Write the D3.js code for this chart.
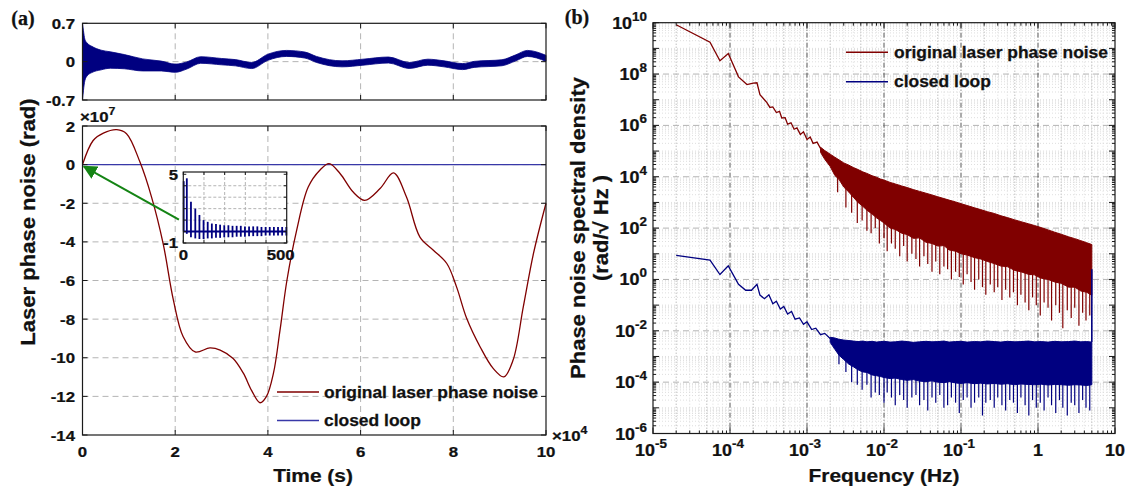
<!DOCTYPE html>
<html><head><meta charset="utf-8">
<script src="https://cdn.jsdelivr.net/npm/d3@7"></script>
<style>
body{margin:0;background:#fff}
svg{display:block}
text{font-family:"Liberation Sans",Arial,sans-serif;font-weight:bold;fill:#111;stroke:#111;stroke-width:0.25px}
</style></head>
<body><svg id="c" width="1127" height="491"></svg>
<script>
// ===================== DATA =====================
// (a) top panel: closed-loop phase noise (rad), band centre and half-width vs time (x1e4 s)
const topT      = [0, 0.02, 0.05, 0.1, 0.2, 0.4, 0.6, 0.9, 1.3, 1.7, 2.0, 2.25, 2.55, 3.0, 3.3, 3.65, 4.0, 4.4, 4.8, 5.05, 5.6, 6.05, 6.6, 7.05, 7.45, 7.8, 8.2, 8.45, 9.05, 9.35, 9.6, 10];
const topCenter = [0, 0.02, 0.03, 0.04, 0.04, 0.03, 0.03, 0.0, -0.06, -0.08, -0.12, -0.07, 0.03, 0.0, -0.02, -0.07, 0.08, 0.15, 0.12, 0.04, -0.04, -0.01, 0.03, -0.07, -0.01, -0.04, -0.09, -0.05, -0.02, 0.07, 0.15, 0.06];
const topHalf   = [0.7, 0.55, 0.38, 0.3, 0.24, 0.18, 0.15, 0.13, 0.11, 0.09, 0.075, 0.065, 0.06, 0.058, 0.057, 0.056, 0.056, 0.055, 0.055, 0.055, 0.055, 0.055, 0.055, 0.055, 0.055, 0.055, 0.055, 0.055, 0.055, 0.055, 0.055, 0.055];
const topYTicks = [-0.7, 0, 0.7];

// (a) main panel: original laser phase noise (x1e7 rad) vs time (x1e4 s)
const origT = [0, 0.23, 0.45, 0.74, 0.95, 1.24, 1.49, 1.74, 1.96, 2.17, 2.43, 2.75, 2.97, 3.25, 3.47, 3.65, 3.83, 3.97, 4.12, 4.26, 4.41, 4.62, 4.87, 5.12, 5.32, 5.56, 5.84, 6.09, 6.42, 6.71, 6.99, 7.28, 7.57, 7.86, 8.07, 8.29, 8.58, 8.86, 9.09, 9.29, 9.51, 9.73, 10];
const origV = [0, 1.25, 1.63, 1.81, 1.6, 0.13, -1.68, -4.09, -7.0, -8.9, -9.7, -9.49, -9.6, -10.04, -10.8, -11.7, -12.33, -12.0, -10.8, -8.6, -6.0, -3.4, -1.16, -0.29, 0.05, -0.47, -1.42, -1.85, -1.24, -0.43, -1.68, -3.75, -4.43, -5.12, -6.33, -7.97, -9.44, -10.55, -10.99, -10.12, -7.37, -4.6, -2.0];
const mainYTicks = [-14, -12, -10, -8, -6, -4, -2, 0, 2];
const timeTicks = [0, 2, 4, 6, 8, 10];

// inset: first 500 samples of closed loop
const insetX   = [2, 17, 37, 58, 78, 98, 118, 138, 158, 178, 198, 218, 238, 258, 278, 298, 318, 338, 358, 378, 398, 418, 438, 458, 478, 498];
const insetPos = [4.4, 4.65, 2.6, 2.0, 1.45, 1.0, 0.85, 0.7, 0.65, 0.6, 0.55, 0.55, 0.5, 0.5, 0.5, 0.45, 0.45, 0.45, 0.45, 0.4, 0.4, 0.4, 0.4, 0.4, 0.4, 0.4];
const insetNeg = [0, -0.2, -0.5, -0.6, -0.65, -0.65, -0.6, -0.6, -0.55, -0.55, -0.5, -0.5, -0.5, -0.45, -0.45, -0.45, -0.4, -0.4, -0.4, -0.4, -0.35, -0.35, -0.35, -0.35, -0.35, -0.35];
const arrowFrom = [2.08, -2.85], arrowTo = [0.03, -0.1];

// (b) spectra: log10 of PSD (rad/sqrt Hz)
const redLineF = [2e-5, 5.5e-5, 7.4e-5, 9.5e-5, 1.29e-4, 1.66e-4, 2.0e-4, 2.24e-4, 2.45e-4, 2.8e-4, 3.0e-4, 3.3e-4, 3.6e-4, 4.0e-4, 4.4e-4, 4.7e-4, 5.2e-4, 5.6e-4, 6.2e-4, 6.8e-4, 7.4e-4, 8.2e-4, 9.0e-4, 1.0e-3, 1.1e-3, 1.2e-3, 1.35e-3, 1.5e-3];
const redLineE = [9.92, 9.24, 8.52, 8.8, 7.89, 7.59, 7.65, 7.66, 7.2, 7.0, 6.9, 6.7, 6.72, 6.5, 6.55, 6.29, 6.3, 6.05, 6.1, 5.85, 5.9, 5.65, 5.75, 5.45, 5.55, 5.3, 5.35, 5.1];
const redBandF  = [1.5e-3, 1.7e-3, 2e-3, 2.3e-3, 2.6e-3, 3e-3, 3.5e-3, 4e-3, 4.6e-3, 5.3e-3,
                   6e-3, 7e-3, 8e-3, 9e-3, 1e-2, 1.2e-2, 1.4e-2, 1.7e-2, 2e-2, 2.4e-2,
                   2.9e-2, 3.5e-2, 4.2e-2, 5e-2, 6e-2, 7e-2, 8.5e-2, 0.1, 0.12, 0.15,
                   0.18, 0.22, 0.27, 0.33, 0.4, 0.5, 0.6, 0.75, 0.9, 1.1,
                   1.35, 1.65, 2, 2.5, 3, 3.6, 4.3, 5];
const redBandHi = [5.15, 5.02, 4.88, 4.76, 4.66, 4.54, 4.45, 4.36, 4.28, 4.19,
                   4.13, 4.04, 3.98, 3.91, 3.87, 3.78, 3.72, 3.64, 3.58, 3.5,
                   3.43, 3.36, 3.29, 3.22, 3.15, 3.09, 3.02, 2.95, 2.88, 2.79,
                   2.72, 2.64, 2.57, 2.48, 2.41, 2.32, 2.25, 2.17, 2.1, 2.02,
                   1.93, 1.84, 1.76, 1.66, 1.59, 1.51, 1.43, 1.36];
const redBandLo = [4.95, 4.68, 4.4, 4.05, 3.9, 3.6, 3.4, 3.2, 3.0, 2.85,
                   2.7, 2.55, 2.4, 2.3, 2.2, 2.0, 1.95, 1.8, 1.75, 1.6,
                   1.62, 1.45, 1.4, 1.3, 1.32, 1.15, 1.1, 1.0, 0.95, 0.85,
                   0.8, 0.7, 0.62, 0.52, 0.5, 0.35, 0.3, 0.2, 0.18, 0.05,
                   0.0, -0.1, -0.15, -0.3, -0.3, -0.45, -0.5, -0.62];
const redSpikeF = [2.5e-3, 3.2e-3, 3.8e-3, 4.5e-3, 5.2e-3, 6e-3, 6.8e-3, 7.7e-3, 8.7e-3, 1e-2,
                   1.1e-2, 1.25e-2, 1.4e-2, 1.6e-2, 1.8e-2, 2e-2, 2.3e-2, 2.6e-2, 2.9e-2, 3.3e-2,
                   3.7e-2, 4.2e-2, 4.7e-2, 5.3e-2, 6e-2, 6.7e-2, 7.5e-2, 8.5e-2, 9.5e-2, 0.107,
                   0.12, 0.135, 0.15, 0.17, 0.19, 0.21, 0.24, 0.27, 0.3, 0.34,
                   0.38, 0.43, 0.48, 0.54, 0.6, 0.68, 0.76, 0.85, 0.95, 1.07,
                   1.2, 1.35, 1.5, 1.7, 1.9, 2.1, 2.4, 2.7, 3.0, 3.4, 3.8, 4.2, 4.7];
const redSpikeE = [3.4, 2.8, 2.6, 2.2, 2.3, 1.9, 1.8, 2.0, 1.4, 1.6,
                   1.1, 1.4, 1.2, 0.9, 1.3, 0.7, 1.0, 0.8, 0.5, 0.9,
                   0.6, 0.3, 0.7, 0.2, 0.5, 0.4, 0.0, 0.3, 0.1, -0.2,
                   0.2, -0.1, -0.4, 0.0, -0.3, -0.6, -0.2, -0.5, -0.3, -0.8,
                   -0.4, -0.7, -0.5, -1.0, -0.6, -0.9, -1.2, -0.7, -1.0, -1.4,
                   -0.9, -1.1, -1.6, -1.0, -1.3, -1.9, -1.2, -1.5, -1.1, -1.8, -1.3, -1.6, -1.4];

const blueLineF = [2e-5, 5.5e-5, 7.4e-5, 9.5e-5, 1.29e-4, 1.6e-4, 1.9e-4, 2.24e-4, 2.45e-4, 2.8e-4, 3.2e-4, 3.6e-4, 4.0e-4, 4.5e-4, 5.0e-4, 5.6e-4, 6.3e-4, 7.0e-4, 8.0e-4, 9.0e-4, 1.0e-3, 1.15e-3, 1.3e-3, 1.5e-3, 1.7e-3, 2.0e-3];
const blueLineE = [0.94, 0.75, 0.19, 0.53, -0.19, -0.42, -0.42, -0.19, -0.61, -0.75, -0.6, -0.95, -0.85, -1.15, -1.05, -1.35, -1.25, -1.55, -1.5, -1.75, -1.65, -1.95, -1.9, -2.15, -2.1, -2.3];
const blueBandF  = [2e-3, 2.3e-3, 2.6e-3, 3e-3, 3.5e-3, 4e-3, 4.6e-3, 5.3e-3, 6e-3, 7e-3,
                    8e-3, 9e-3, 1e-2, 1.2e-2, 1.4e-2, 1.7e-2, 2e-2, 2.4e-2, 2.9e-2, 3.5e-2,
                    4.2e-2, 5e-2, 6e-2, 7e-2, 8.5e-2, 0.1, 0.12, 0.15, 0.18, 0.22,
                    0.27, 0.33, 0.4, 0.5, 0.6, 0.75, 0.9, 1.1, 1.35, 1.65,
                    2, 2.5, 3, 3.6, 4.3, 5];
const blueBandHi = [-2.25, -2.28, -2.33, -2.36, -2.38, -2.4, -2.42, -2.4, -2.43, -2.41,
                    -2.44, -2.42, -2.41, -2.44, -2.43, -2.4, -2.42, -2.45, -2.43, -2.41,
                    -2.43, -2.42, -2.4, -2.44, -2.42, -2.41, -2.44, -2.42, -2.43, -2.4,
                    -2.42, -2.44, -2.41, -2.43, -2.42, -2.4, -2.43, -2.42, -2.44, -2.41,
                    -2.43, -2.42, -2.4, -2.43, -2.42, -2.44];
const blueBandLo = [-2.45, -2.72, -2.95, -3.12, -3.3, -3.4, -3.52, -3.6, -3.62, -3.72,
                    -3.75, -3.78, -3.82, -3.86, -3.84, -3.9, -3.93, -3.9, -3.96, -3.98,
                    -3.95, -4.0, -4.02, -3.98, -4.03, -4.05, -4.02, -4.06, -4.04, -4.07,
                    -4.05, -4.08, -4.06, -4.1, -4.07, -4.09, -4.1, -4.08, -4.11, -4.09,
                    -4.1, -4.12, -4.1, -4.11, -4.13, -4.1];
const blueSpikeF = [2.6e-3, 3.2e-3, 3.8e-3, 4.5e-3, 5.2e-3, 6e-3, 6.8e-3, 7.7e-3, 8.7e-3, 1e-2,
                    1.1e-2, 1.25e-2, 1.4e-2, 1.6e-2, 1.8e-2, 2e-2, 2.3e-2, 2.6e-2, 2.9e-2, 3.3e-2,
                    3.7e-2, 4.2e-2, 4.7e-2, 5.3e-2, 6e-2, 6.7e-2, 7.5e-2, 8.5e-2, 9.5e-2, 0.107,
                    0.12, 0.135, 0.15, 0.17, 0.19, 0.21, 0.24, 0.27, 0.3, 0.34,
                    0.38, 0.43, 0.48, 0.54, 0.6, 0.68, 0.76, 0.85, 0.95, 1.07,
                    1.2, 1.35, 1.5, 1.7, 1.9, 2.1, 2.4, 2.7, 3.0, 3.4, 3.8, 4.2, 4.7];
const blueSpikeE = [-3.3, -3.6, -4.0, -4.1, -4.3, -4.1, -4.6, -4.4, -4.5, -4.8,
                    -4.4, -4.6, -4.9, -4.5, -4.7, -5.0, -4.6, -4.5, -4.9, -4.7,
                    -5.1, -4.6, -4.8, -4.5, -5.0, -4.9, -4.6, -4.8, -5.2, -4.7,
                    -4.6, -5.0, -4.8, -4.6, -5.3, -4.8, -4.7, -5.0, -4.6, -4.9,
                    -5.1, -4.7, -4.8, -5.2, -4.6, -4.9, -5.3, -4.7, -5.0, -4.8,
                    -5.1, -4.6, -4.9, -5.2, -4.7, -5.0, -5.3, -4.8, -4.9, -5.2, -4.7, -5.0, -5.1];
const blueEndF = 5, blueEndE = 0.4;

const freqTicks = [1e-5, 1e-4, 1e-3, 1e-2, 1e-1, 1, 10];
const freqTickLabels = [["10","-5"],["10","-4"],["10","-3"],["10","-2"],["10","-1"],["1",""],["10",""]];
const psdTicksE = [-6, -4, -2, 0, 2, 4, 6, 8, 10];

const legendLabels = ["original laser phase noise", "closed loop"];
const RED = "#800000", NAVY = "#000080", BLUE2 = "#3838a8", GRID = "#b4b4b4";

// ===================== DRAW =====================
const svg = d3.select("#c");
const SX = 1.12;
function txt(x, y, s, o = {}) {
  const t = svg.append("text")
    .attr("transform", `translate(${x},${y}) rotate(${o.rot || 0}) scale(${o.sx || SX},1)`)
    .attr("text-anchor", o.anchor || "middle")
    .style("font-size", (o.size || 15) + "px");
  if (o.family) t.style("font-family", o.family);
  t.text(s);
  return t;
}
function frame(x0, y0, x1, y1) {
  svg.append("rect").attr("x", x0).attr("y", y0).attr("width", x1 - x0).attr("height", y1 - y0)
    .attr("fill", "none").attr("stroke", "#1a1a1a").attr("stroke-width", 1.2);
}
function tick(x1, y1, x2, y2, w) {
  svg.append("line").attr("x1", x1).attr("y1", y1).attr("x2", x2).attr("y2", y2)
    .attr("stroke", "#1a1a1a").attr("stroke-width", w || 1);
}
function gline(x1, y1, x2, y2, color, dash, w) {
  svg.append("line").attr("x1", x1).attr("y1", y1).attr("x2", x2).attr("y2", y2)
    .attr("stroke", color).attr("stroke-width", w || 1).attr("stroke-dasharray", dash);
}

// ---------- (a) top ----------
const xT = d3.scaleLinear([0, 10], [82.5, 546]);
const yTop = d3.scaleLinear([-0.7, 0.7], [100, 23.3]);
[2, 4, 6, 8].forEach(v => gline(xT(v), yTop.range()[1], xT(v), yTop.range()[0], GRID, "6,4"));
gline(xT(0), yTop(0), xT(10), yTop(0), GRID, "6,4");
svg.append("path")
  .datum(topT.map((t, i) => [t, topCenter[i], topHalf[i]]))
  .attr("fill", NAVY).attr("stroke", NAVY).attr("stroke-width", 0.8)
  .attr("d", d3.area().curve(d3.curveMonotoneX).x(d => xT(d[0])).y0(d => yTop(d[1] - d[2])).y1(d => yTop(d[1] + d[2])));
frame(82.5, 23.3, 546, 100);
timeTicks.forEach(v => { tick(xT(v), 100, xT(v), 95); tick(xT(v), 23.3, xT(v), 28.3); });
topYTicks.forEach(v => {
  tick(82.5, yTop(v), 87.5, yTop(v)); tick(546, yTop(v), 541, yTop(v));
  txt(75, yTop(v) + 5.5, v === 0 ? "0" : String(v), {anchor: "end"});
});

// ---------- (a) main ----------
const yM = d3.scaleLinear([-14, 2], [435, 126]);
[-12, -10, -8, -6, -4, -2, 0].forEach(v => gline(xT(0), yM(v), xT(10), yM(v), GRID, "6,4"));
[2, 4, 6, 8].forEach(v => gline(xT(v), yM(2), xT(v), yM(-14), GRID, "6,4"));
svg.append("path").datum(topT.map((t, i) => [t, topCenter[i] / 1e7]))
  .attr("fill", "none").attr("stroke", BLUE2).attr("stroke-width", 1.3)
  .attr("d", d3.line().x(d => xT(d[0])).y(d => yM(d[1])));
svg.append("path").datum(origT.map((t, i) => [t, origV[i]]))
  .attr("fill", "none").attr("stroke", RED).attr("stroke-width", 1.3)
  .attr("d", d3.line().curve(d3.curveCatmullRom).x(d => xT(d[0])).y(d => yM(d[1])));
frame(82.5, 126, 546, 435);
timeTicks.forEach(v => {
  tick(xT(v), 435, xT(v), 430); tick(xT(v), 126, xT(v), 131);
  txt(xT(v), 457, String(v));
});
mainYTicks.forEach(v => {
  tick(82.5, yM(v), 87.5, yM(v)); tick(546, yM(v), 541, yM(v));
  txt(75, yM(v) + 5.5, String(v), {anchor: "end"});
});
let t7 = txt(80, 122, "×10", {anchor: "start"});
t7.append("tspan").attr("dy", -7).style("font-size", "11px").text("7");
let t4 = txt(552, 441, "×10", {anchor: "start"});
t4.append("tspan").attr("dy", -7).style("font-size", "11px").text("4");

// arrow
svg.append("defs").append("marker").attr("id", "ah").attr("viewBox", "0 0 10 10")
  .attr("refX", 9).attr("refY", 5).attr("markerWidth", 7).attr("markerHeight", 7).attr("orient", "auto")
  .append("path").attr("d", "M0,0 L10,5 L0,10 z").attr("fill", "#148414");
svg.append("line").attr("x1", xT(arrowFrom[0])).attr("y1", yM(arrowFrom[1]))
  .attr("x2", xT(arrowTo[0])).attr("y2", yM(arrowTo[1]))
  .attr("stroke", "#148414").attr("stroke-width", 2).attr("marker-end", "url(#ah)");

// inset
const xI = d3.scaleLinear([0, 500], [183.3, 286.7]);
const yI = d3.scaleLinear([-1, 5.2], [243, 172]);
svg.append("rect").attr("x", 183.3).attr("y", 172).attr("width", 103.4).attr("height", 71).attr("fill", "#fff");
[100, 200, 300, 400].forEach(v => gline(xI(v), 172, xI(v), 243, GRID, "3,2"));
[0, 1, 2, 3, 4].forEach(v => gline(183.3, yI(v), 286.7, yI(v), GRID, "3,2"));
insetX.forEach((x, i) => {
  svg.append("line").attr("x1", xI(x)).attr("x2", xI(x)).attr("y1", yI(insetNeg[i])).attr("y2", yI(insetPos[i]))
    .attr("stroke", NAVY).attr("stroke-width", 1.8);
});
svg.append("line").attr("x1", xI(0)).attr("x2", xI(500)).attr("y1", yI(0)).attr("y2", yI(0))
  .attr("stroke", NAVY).attr("stroke-width", 2);
frame(183.3, 172, 286.7, 243);
[0, 100, 200, 300, 400, 500].forEach(v => { tick(xI(v), 243, xI(v), 240); tick(xI(v), 172, xI(v), 175); });
[-1, 0, 1, 2, 3, 4, 5].forEach(v => { tick(183.3, yI(v), 186.3, yI(v)); tick(286.7, yI(v), 283.7, yI(v)); });
txt(178, yI(5) + 6, "5", {anchor: "end"});
txt(178, yI(-1) + 5, "-1", {anchor: "end"});
txt(xI(0), 260, "0");
txt(xI(500) - 6, 260, "500");

// legend (a)
[[392, RED], [420.5, BLUE2]].forEach((d, i) => {
  svg.append("line").attr("x1", 277).attr("x2", 319).attr("y1", d[0]).attr("y2", d[0]).attr("stroke", d[1]).attr("stroke-width", 1.5);
  txt(324, d[0] + 5.5, legendLabels[i], {anchor: "start", size: 16, sx: 1.09});
});

txt(35, 222, "Laser phase noise (rad)", {rot: -90, size: 19.5, sx: 1.13});
txt(313, 482, "Time (s)", {size: 19, sx: 1.1});
txt(23, 25, "(a)", {size: 20, family: "'Liberation Serif', 'Times New Roman', serif", sx: 1});

// ---------- (b) ----------
const xF = d3.scaleLog([1e-5, 10], [653, 1115]);
const yP = d3.scaleLog([1e-6, 1e10], [433.5, 22.7]);
const P = e => Math.pow(10, e);
for (let d = -5; d <= 0; d++) for (let k = 2; k <= 9; k++) {
  const x = xF(k * P(d));
  gline(x, 22.7, x, 433.5, (k === 2 || k === 5) ? "#8a8a8a" : "#d6d6d6", "1,2", 0.8);
}
for (let e = -6; e < 10; e++) for (let k = 1; k <= 9; k++) {
  if (k === 1 && (e % 2 === 0)) continue;
  const y = yP(k * P(e));
  gline(653, y, 1115, y, "#d6d6d6", "1,2", 0.8);
}
psdTicksE.slice(1, -1).forEach(e => gline(653, yP(P(e)), 1115, yP(P(e)), GRID, "6,4", 1));
freqTicks.slice(1, -1).forEach(f => gline(xF(f), 22.7, xF(f), 433.5, "#444", "5,2,1,2", 0.9));

function spectrum(lineF, lineE, bandF, bandHi, bandLo, spF, spE, color) {
  const g = svg.append("g");
  const loAt = d3.scaleLog().domain(bandF).range(bandLo);
  spF.forEach((f, i) => {
    g.append("line").attr("x1", xF(f)).attr("x2", xF(f)).attr("y1", yP(P(loAt(f) + 0.1))).attr("y2", yP(P(spE[i])))
      .attr("stroke", color).attr("stroke-width", 1.2);
  });
  g.append("path").datum(bandF.map((f, i) => [f, bandHi[i], bandLo[i]]))
    .attr("fill", color).attr("stroke", color).attr("stroke-width", 1)
    .attr("d", d3.area().x(d => xF(d[0])).y0(d => yP(P(d[2]))).y1(d => yP(P(d[1]))));
  g.append("path").datum(lineF.map((f, i) => [f, lineE[i]]))
    .attr("fill", "none").attr("stroke", color).attr("stroke-width", 1.3)
    .attr("d", d3.line().x(d => xF(d[0])).y(d => yP(P(d[1]))));
  return g;
}
spectrum(redLineF, redLineE, redBandF, redBandHi, redBandLo, redSpikeF, redSpikeE, RED);
spectrum(blueLineF, blueLineE, blueBandF, blueBandHi, blueBandLo, blueSpikeF, blueSpikeE, NAVY);
svg.append("line").attr("x1", xF(blueEndF)).attr("x2", xF(blueEndF))
  .attr("y1", yP(P(blueEndE))).attr("y2", yP(P(blueBandHi[blueBandHi.length - 1]))).attr("stroke", NAVY).attr("stroke-width", 1.6);

frame(653, 22.7, 1115, 433.5);
for (let d = -5; d <= 1; d++) {
  const x = xF(P(d)); tick(x, 433.5, x, 427.5); tick(x, 22.7, x, 28.7);
  if (d < 1) for (let k = 2; k <= 9; k++) { const xm = xF(k * P(d)); tick(xm, 433.5, xm, 430.5); tick(xm, 22.7, xm, 25.7); }
}
for (let e = -6; e <= 10; e++) {
  const y = yP(P(e)); tick(653, y, 659, y); tick(1115, y, 1109, y);
  if (e < 10) for (let k = 2; k <= 9; k++) { const ym = yP(k * P(e)); tick(653, ym, 656, ym); tick(1115, ym, 1112, ym); }
}
freqTicks.forEach((f, i) => {
  const lab = freqTickLabels[i];
  const t = txt(xF(f) + (lab[1] ? -2 : 0), 456, lab[0], {size: 16});
  if (lab[1]) t.append("tspan").attr("dy", -8).style("font-size", "12px").text(lab[1]);
});
psdTicksE.forEach(e => {
  const t = txt(647, yP(P(e)) + 6, "10", {anchor: "end", size: 16});
  t.append("tspan").attr("dy", -8).style("font-size", "12px").text(String(e));
});
[[52.3, RED], [81.7, NAVY]].forEach((d, i) => {
  svg.append("line").attr("x1", 846).attr("x2", 888).attr("y1", d[0]).attr("y2", d[0]).attr("stroke", d[1]).attr("stroke-width", 1.5);
  txt(894, d[0] + 5.5, legendLabels[i], {anchor: "start", size: 16, sx: 1.09});
});
txt(585, 228, "Phase noise spectral density", {rot: -90, size: 20, sx: 1.1});
txt(608, 228, "(rad/√ Hz )", {rot: -90, size: 20, sx: 1.1});
txt(884, 482, "Frequency (Hz)", {size: 19, sx: 1.1});
txt(577, 24, "(b)", {size: 20, family: "'Liberation Serif', 'Times New Roman', serif", sx: 1});
</script>
</body></html>
